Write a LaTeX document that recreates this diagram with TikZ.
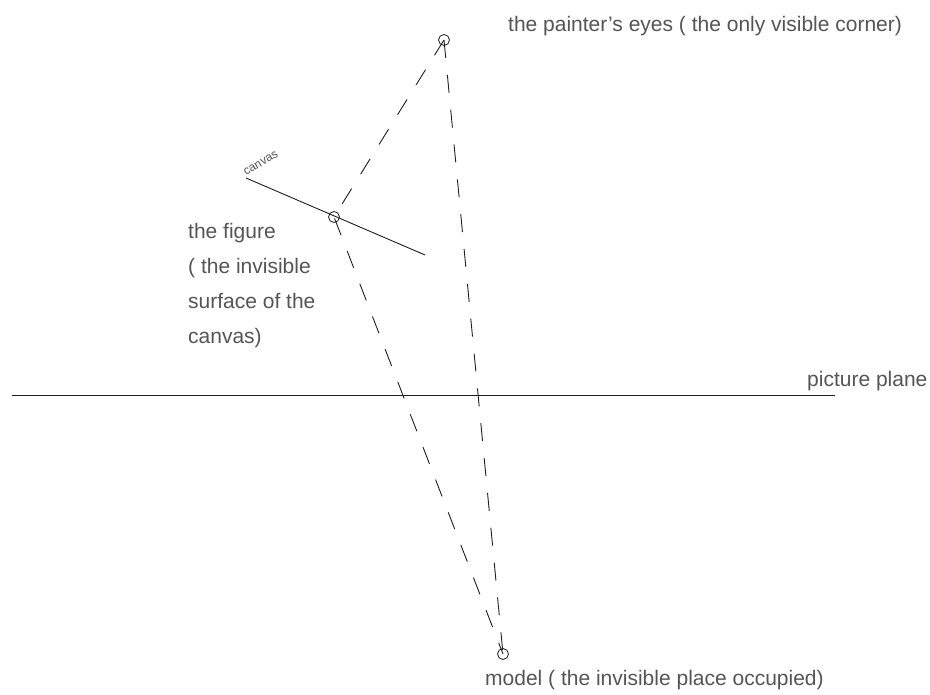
\documentclass[tikz,border=0pt]{standalone}
\usepackage{fontspec}
\setmainfont{Liberation Sans}
\usepackage{xcolor}
\usepackage{tikz}
\usetikzlibrary{positioning}
\definecolor{InkLine}{RGB}{30,30,30}
\definecolor{InkText}{RGB}{85,85,85}

\begin{document}
\begin{tikzpicture}[x=1pt,y=1pt,
    sightline/.style={draw=InkLine, line width=0.9pt, dash pattern=on 18pt off 17pt},
    solidline/.style={draw=InkLine, line width=0.9pt},
    spot/.style={circle, draw=InkLine, line width=0.8pt, minimum size=11pt, inner sep=0pt},
    note/.style={font=\fontsize{21}{35}\selectfont, text=InkText, inner sep=0pt}
  ]
    \useasboundingbox (0,0) rectangle (930,695);
    % the three places
    \node[spot] (eye) at (444,655) {};
    \node[spot] (figure) at (334,478) {};
    \node[spot] (model) at (503,41) {};
    % canvas and picture plane
    \coordinate (cvsA) at (246,517);
    \coordinate (cvsB) at (425,440);
    \draw[solidline] (cvsA) -- (cvsB);
    \coordinate (planeA) at (12,300);
    \coordinate (planeB) at (835,300);
    \draw[solidline] (planeA) -- (planeB);
    % lines of sight
    \draw[sightline] (eye.center) -- (figure.center) -- (model.center);
    \draw[sightline] (eye.center) -- (model.center);
    % labels
    \node[note, anchor=west] (eyelabel) at (508,669) {the painter's eyes ( the only visible corner)};
    \node[note, font=\fontsize{12}{13}\selectfont, rotate=30, anchor=south west] (cvslabel) at (246,519) {canvas};
    \node[note, anchor=north west, align=left] (figlabel) at (188,472) {the figure\\( the invisible\\surface of the\\canvas)};
    \node[note, anchor=west] (planelabel) at (807,314) {picture plane};
    \node[note, anchor=west] (modellabel) at (485,15) {model ( the invisible place occupied)};
\end{tikzpicture}
\end{document}
